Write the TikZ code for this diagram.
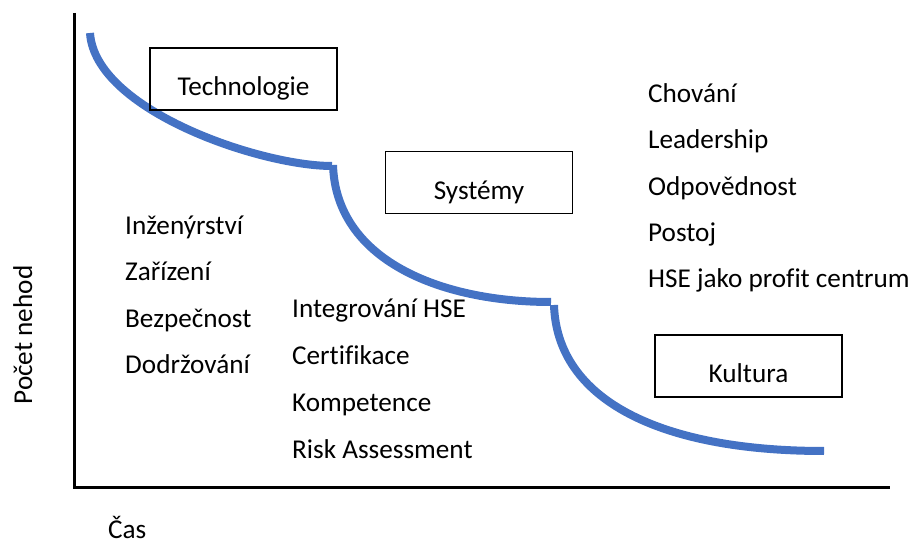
\documentclass[tikz,border=0pt]{standalone}
\usepackage{fontspec}
\setmainfont{Carlito}[Ligatures=NoCommon]
\definecolor{curveblue}{RGB}{68,114,196}
\begin{document}
\begin{tikzpicture}[x=1pt,y=-1pt]
    \tikzstyle{every node}=[font=\fontsize{27.2}{32}\selectfont, inner sep=0pt]
    \tikzstyle{item}=[anchor=base west]
    \tikzstyle{stage}=[draw, line width=1.5pt, minimum width=187pt, text height=48pt, text depth=14pt]
    \tikzstyle{stair}=[draw=curveblue, line width=8pt]

    \useasboundingbox (0,0) rectangle (911,545);

    % Axes
    \coordinate (top) at (74,13);
    \coordinate (origin) at (74,487);
    \coordinate (right) at (890,487);
    \draw [line width=3pt] (top) -- (origin) -- (right);
    \node (yname) [rotate=90, anchor=base] at (32,335) {Počet nehod};
    \node (xname) [item] at (108,538) {Čas};

    % Curve (three steps)
    \draw [stair] (90,33) .. controls (95,110) and (260,166) .. (332,166);
    \draw [stair] (333,165) .. controls (336,260) and (440,302) .. (551,302);
    \draw [stair] (554,305) .. controls (557,400) and (660,451) .. (824,451);

    % Boxes
    \node (tech) [stage] at (243.5,79) {Technologie};
    \node (sys) [stage] at (479,182.5) {Systémy};
    \node (cult) [stage] at (748.5,366) {Kultura};

    % Column 1 (Inženýrství to Dodržování)
    \node (eng) [item] at (125,235) {Inženýrství};
    \node (equip) [item] at (125,281) {Zařízení};
    \node (safety) [item] at (125,328) {Bezpečnost};
    \node (comply) [item] at (125,374) {Dodržování};

    % Column 2 (Integrování HSE to Risk Assessment)
    \node (integ) [item] at (292,318) {Integrování HSE};
    \node (cert) [item] at (292,365) {Certifikace};
    \node (compet) [item] at (292,412) {Kompetence};
    \node (risk) [item] at (292,458) {Risk Assessment};

    % Column 3 (Chování to HSE jako profit centrum)
    \node (behav) [item] at (648,103) {Chování};
    \node (lead) [item] at (648,149) {Leadership};
    \node (resp) [item] at (648,196) {Odpovědnost};
    \node (attit) [item] at (648,242) {Postoj};
    \node (profit) [item] at (648,288) {HSE jako profit centrum};

\end{tikzpicture}
\end{document}
